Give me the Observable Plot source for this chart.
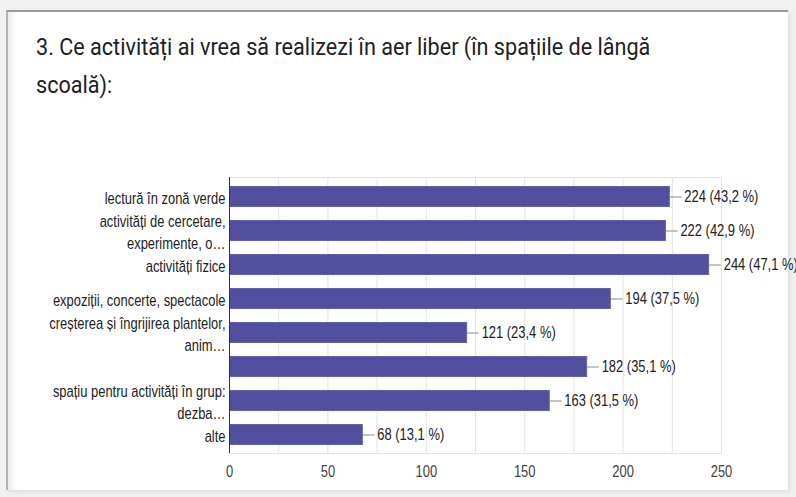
<!DOCTYPE html>
<html>
<head>
<meta charset="utf-8">
<script src="https://cdn.jsdelivr.net/npm/d3@7"></script>
<script src="https://cdn.jsdelivr.net/npm/@observablehq/plot@0.6"></script>
<style>
  html, body { margin: 0; padding: 0; background: #f1f1f1; }
  body { width: 796px; height: 497px; position: relative; overflow: hidden; }
  #card {
    position: absolute; left: 6px; top: 10px; width: 780px; height: 478px;
    background: #fff;
    border-top: 2px solid #9a9a9a; border-left: 2px solid #b4b4b4;
    box-shadow: inset 10px 0 10px -8px rgba(0,0,0,0.12), 2px 2px 4px rgba(0,0,0,0.08);
  }
  #title {
    position: absolute; left: 36px; top: 28px;
    font-family: Roboto, "Liberation Sans", sans-serif; font-size: 24px; line-height: 38px;
    color: #212121; white-space: pre;
    transform: scaleX(0.9); transform-origin: 0 0;
  }
  #chart { position: absolute; left: 0; top: 160px; }
</style>
</head>
<body>
<div id="card"></div>
<div id="title"></div>
<div id="chart"></div>
<script>
const titleLines = ["3. Ce activități ai vrea să realizezi în aer liber (în spațiile de lângă", "scoală):"];
const labels = [
  "lectură în zonă verde",
  "activități de cercetare,\nexperimente, o…",
  "activități fizice",
  "expoziții, concerte, spectacole",
  "creșterea și îngrijirea plantelor,\nanim…",
  "",
  "spațiu pentru activități în grup:\ndezba…",
  "alte"
];
const values = [224, 222, 244, 194, 121, 182, 163, 68];
const percents = [43.2, 42.9, 47.1, 37.5, 23.4, 35.1, 31.5, 13.1];
const xTicks = [0, 50, 100, 150, 200, 250];
const gridStep = 25;

document.getElementById("title").textContent = titleLines.join("\n");

const data = labels.map((label, i) => ({key: i, label, value: values[i], pct: percents[i]}));
const fmtPct = p => p.toFixed(1).replace(".", ",");
const FONT = 16.6;
const SX = 0.78;

const chart = Plot.plot({
  width: 796,
  height: 337,
  marginLeft: 229,
  marginRight: 75,
  marginTop: 17,
  marginBottom: 44,
  style: {fontFamily: '"Liberation Sans", Arial, sans-serif', fontSize: FONT + "px", background: "transparent", overflow: "visible"},
  x: {domain: [0, 250], axis: null, label: null},
  y: {domain: data.map(d => d.key), axis: null, label: null, paddingInner: 0.39, paddingOuter: 0.195},
  marks: [
    Plot.gridX(d3.range(gridStep, 251, gridStep), {stroke: "#e4e4e4", strokeOpacity: 1}),
    Plot.frame({stroke: "#e4e4e4"}),
    Plot.barX(data, {y: "key", x: "value", fill: "#534f9f", stroke: "#6461b0", strokeWidth: 1, inset: 0.5}),
    Plot.ruleX([0], {stroke: "#333"}),
    Plot.ruleY(data, {y: "key", x1: "value", x2: d => d.value + 6, stroke: "#8a8a8a", strokeWidth: 1}),
    Plot.text(data, {y: "key", x: "value", dx: 14, text: d => `${d.value} (${fmtPct(d.pct)} %)`, textAnchor: "start", fill: "#222", fontSize: FONT}),
    Plot.text(data, {y: "key", frameAnchor: "left", dx: -4, text: "label", textAnchor: "end", fill: "#222", fontSize: FONT, lineHeight: 1.35}),
    Plot.axisX({ticks: xTicks, tickSize: 0, tickPadding: 12, fontSize: FONT, color: "#444", label: null})
  ]
});

// Condense all chart text horizontally (reference screenshot is narrow-set)
chart.querySelectorAll("text").forEach(t => {
  const tr = t.getAttribute("transform");
  if (tr) {
    t.setAttribute("transform", tr + ` scale(${SX},1)`);
  } else {
    const x = +(t.getAttribute("x") || 0);
    t.setAttribute("transform", `translate(${x},0) scale(${SX},1) translate(${-x},0)`);
  }
});

document.getElementById("chart").appendChild(chart);
</script>
</body>
</html>
